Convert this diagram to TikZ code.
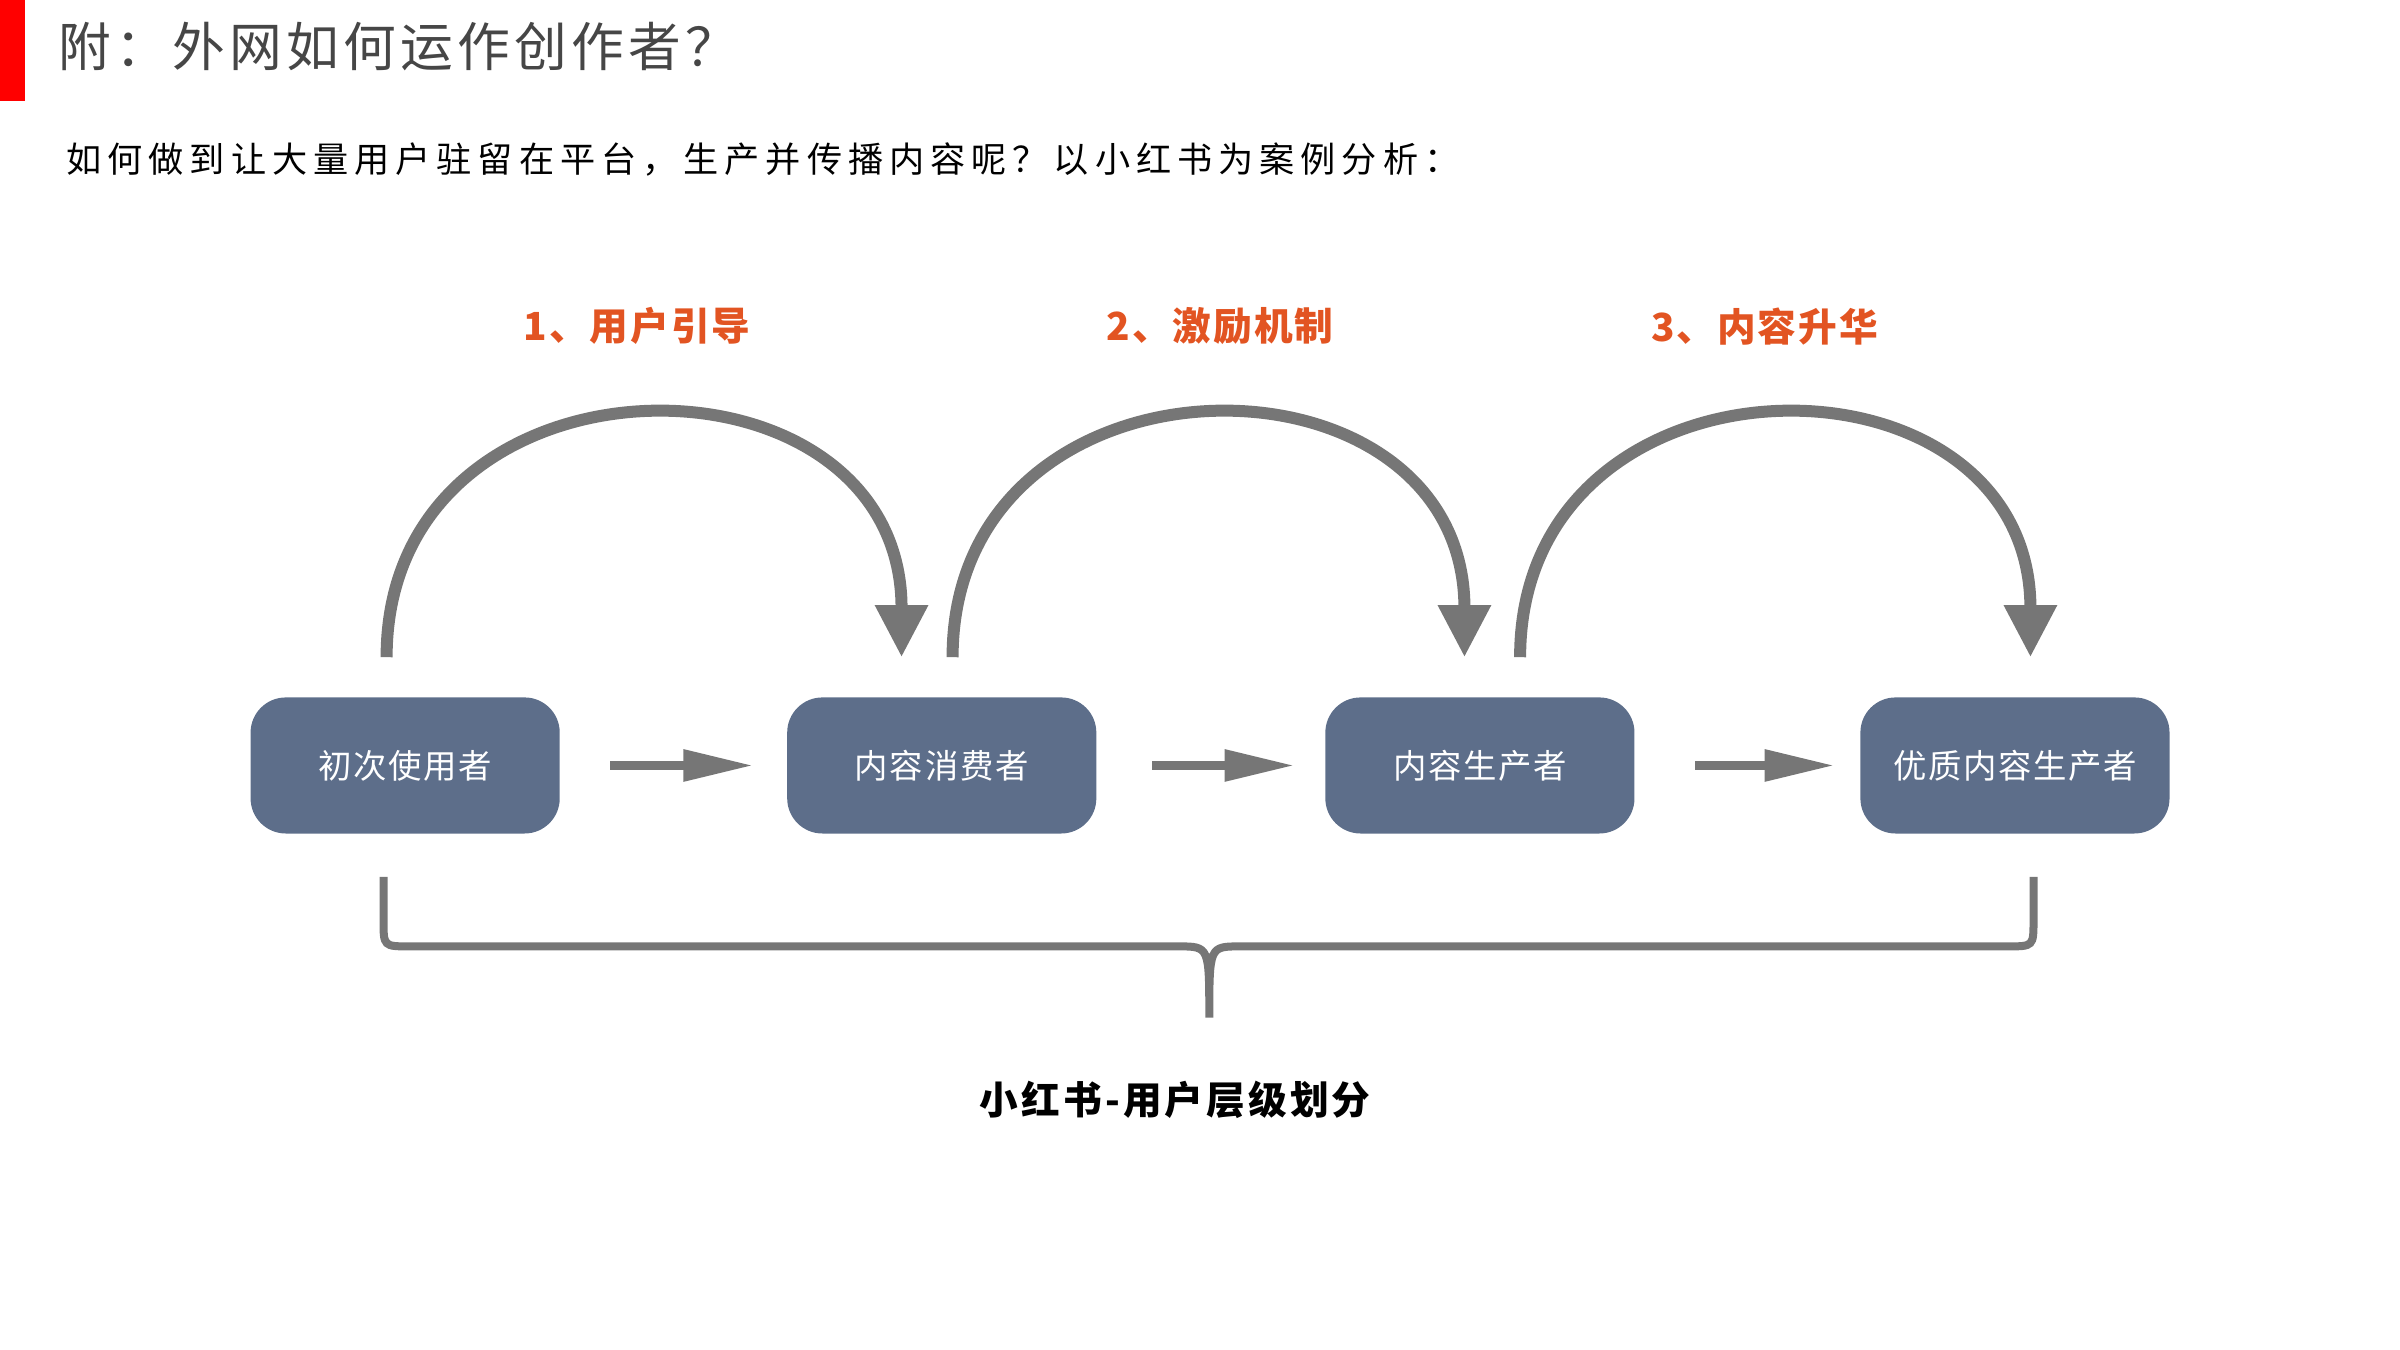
\documentclass[tikz,border=0pt]{standalone}
\usepackage{fontspec}
\setmainfont{Noto Sans CJK SC}
\newfontfamily\spaced[LetterSpace=17]{Noto Sans CJK SC}
\newfontfamily\wide[LetterSpace=8]{Noto Sans CJK SC}
\newfontfamily\slight[LetterSpace=5]{Noto Sans CJK SC}
\usetikzlibrary{arrows.meta, positioning}
\definecolor{boxcolor}{RGB}{93, 110, 138}
\definecolor{flowcolor}{RGB}{118, 118, 118}
\definecolor{stepcolor}{RGB}{226, 84, 34}
\definecolor{titlecolor}{RGB}{70, 70, 70}
\tikzset{
    level/.style={draw=none, fill=boxcolor, rounded corners=10pt, minimum width=3.09cm, minimum height=1.36cm, text=white, font=\slight\fontsize{9.5}{12}\selectfont},
    phase/.style={font=\slight\fontsize{11}{13}\selectfont\bfseries, text=stepcolor},
    flow/.style={flowcolor, line width=0.09cm, -{Triangle[length=0.7cm, width=0.3cm]}},
    loop/.style={flowcolor, line width=0.12cm, -{Triangle[length=0.52cm, width=0.5cm]}}
}
\begin{document}
\begin{tikzpicture}[x=0.015464cm, y=-0.015464cm]
    \useasboundingbox (0,0) rectangle (1552,873);
    % Header
    \fill[red] (0,0) rectangle (16,65);
    \node[anchor=west, text=titlecolor, font=\wide\fontsize{15}{18}\selectfont] (title) at (30,30) {附：外网如何运作创作者？};
    \node[anchor=west, font=\spaced\fontsize{10}{12}\selectfont] (subtitle) at (35,103) {如何做到让大量用户驻留在平台，生产并传播内容呢？以小红书为案例分析：};

    % User levels
    \node[level] (first) at (262,495) {初次使用者};
    \node[level] (consumer) at (609,495) {内容消费者};
    \node[level] (producer) at (957,495) {内容生产者};
    \node[level] (quality) at (1303,495) {优质内容生产者};

    % Straight arrows
    \draw[flow] ([xshift=0.5cm]first.east) -- ([xshift=-0.33cm]consumer.west);
    \draw[flow] ([xshift=0.55cm]consumer.east) -- ([xshift=-0.3cm]producer.west);
    \draw[flow] ([xshift=0.6cm]producer.east) -- ([xshift=-0.25cm]quality.west);

    % Arcs
    \coordinate (a1) at (250,425); \coordinate (b1) at (583,425);
    \coordinate (a2) at (616,425); \coordinate (b2) at (947,425);
    \coordinate (a3) at (983,425); \coordinate (b3) at (1313,425);
    \draw[loop] (a1) .. controls (250,218) and (583,218) .. (b1);
    \draw[loop] (a2) .. controls (616,218) and (947,218) .. (b2);
    \draw[loop] (a3) .. controls (983,218) and (1313,218) .. (b3);
    \node[phase] (s1) at (412,211) {1、用户引导};
    \node[phase] (s2) at (789,211) {2、激励机制};
    \node[phase] (s3) at (1141,211) {3、内容升华};

    % Brace
    \coordinate (bl) at (248,567); \coordinate (br) at (1315,567);
    \coordinate (tip) at (782,658);
    \draw[flowcolor, line width=0.08cm] (bl) -- (248,595) .. controls (248,612) .. (265,612)
        -- (762,612) .. controls (782,612) .. (tip)
        .. controls (782,612) .. (802,612) -- (1298,612)
        .. controls (1315,612) .. (1315,595) -- (br);
    \node[font=\wide\fontsize{11}{13}\selectfont\bfseries] (caption) at (760,711) {小红书-用户层级划分};
\end{tikzpicture}
\end{document}
